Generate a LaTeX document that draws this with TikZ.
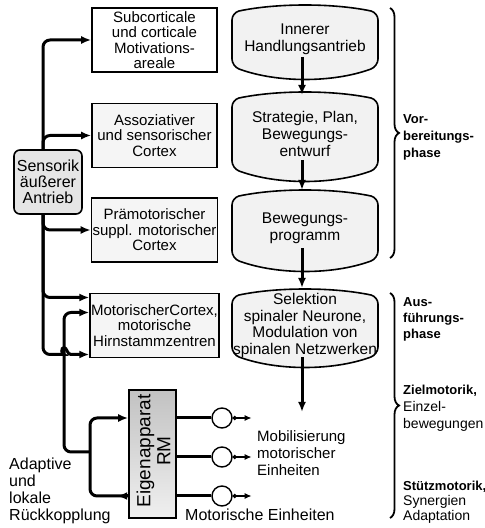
\documentclass[tikz,border=0pt]{standalone}
\usepackage{fontspec}
\setmainfont{Liberation Sans}
\usetikzlibrary{positioning,arrows.meta,calc,backgrounds,decorations.pathreplacing}

% barrel outline round a phase node: #1 node, #2 half height
\newcommand{\barrel}[2]{%
  \draw[outline]
    ($(#1.center)+(-73,-#2+7)$) -- ($(#1.center)+(-73,#2-7)$)
    .. controls +(0,4) and +(-4,-1) .. ($(#1.center)+(-66,#2+2)$)
    .. controls +(38,8) and +(-38,8) .. ($(#1.center)+(66,#2+2)$)
    .. controls +(4,-1) and +(0,4) .. ($(#1.center)+(73,#2-7)$)
    -- ($(#1.center)+(73,-#2+7)$)
    .. controls +(0,-4) and +(4,1.5) .. ($(#1.center)+(66,-#2-3)$)
    .. controls +(-38,-14) and +(38,-14) .. ($(#1.center)+(-66,-#2-3)$)
    .. controls +(-4,1.5) and +(0,-4) .. ($(#1.center)+(-73,-#2+7)$)
    -- cycle;}

\begin{document}
\begin{tikzpicture}[
    x=1pt, y=1pt,
    area/.style={
        rectangle,
        draw=black,
        line width=1.6pt,
        fill=white,
        minimum width=125pt,
        minimum height=64pt,
        inner sep=1pt,
        align=center,
        font=\fontsize{15}{15.5}\selectfont
    },
    phase/.style={
        inner sep=0pt,
        align=center,
        font=\fontsize{15.5}{16.8}\selectfont
    },
    outline/.style={draw=black, line width=1.6pt, line join=round, fill=black!5},
    sense/.style={
        rectangle,
        draw=black,
        line width=1.6pt,
        fill=black!10,
        rounded corners=6pt,
        minimum width=68pt,
        minimum height=64pt,
        inner sep=1pt,
        align=center,
        font=\fontsize{16}{16}\selectfont
    },
    rmbox/.style={rectangle, draw=black, line width=1.6pt, top color=black!24, bottom color=black!6,
        minimum width=47pt, minimum height=128pt},
    unit/.style={circle, draw=black, line width=1.4pt, fill=white, minimum size=20pt, inner sep=0pt},
    conn/.style={line width=3pt, rounded corners=7pt, -{Latex[length=10pt,width=8pt]}},
    wire/.style={line width=3pt},
    emit/.style={line width=1.6pt, {Circle[open,length=4pt,width=4pt]}-{Latex[length=7pt,width=6pt]}},
    stage/.style={decorate, decoration={brace, amplitude=9pt}, line width=1.8pt},
    note/.style={anchor=north west, inner sep=0pt, align=left, font=\fontsize{14}{17}\selectfont}
]
    \useasboundingbox (0,0) rectangle (485,528);

    % Areas
    \node[area] (sub) at (154.5,488) {Subcorticale\\und corticale\\Motivations-\\areale};
    \node[area, fill=black!4] (asso) at (154.5,392.5) {Assoziativer\\und sensorischer\\Cortex};
    \node[area, fill=black!4] (praemo) at (154.5,298) {Prämotorischer\\suppl. motorischer\\Cortex};
    \node[area, fill=black!4] (motcx) at (154.5,202.5) {MotorischerCortex,\\motorische\\Hirnstammzentren};
    \node[sense] (sens) at (48,346) {Sensorik\\äußerer\\Antrieb};

    % Phases
    \node[phase] (s1) at (305,488.5) {Innerer\\Handlungsantrieb};
    \node[phase] (s2) at (305,394) {Strategie, Plan,\\Bewegungs-\\entwurf};
    \node[phase] (s3) at (305,300) {Bewegungs-\\programm};
    \node[phase] (s4) at (305,202.5) {Selektion\\spinaler Neurone,\\Modulation von\\spinalen Netzwerken};
    \begin{scope}[on background layer]
        \barrel{s1}{26.5}
        \barrel{s2}{34}
        \barrel{s3}{30}
        \barrel{s4}{28.5}
    \end{scope}

    % Spinal level
    \node[rmbox] (rm) at (152.5,74) {};
    \node[rotate=90, align=center, font=\fontsize{19}{20}\selectfont] (rmtext) at ([xshift=1pt,yshift=3pt]rm.center) {Eigenapparat\\RM};
    \node[unit] (m1) at (222,110) {};
    \node[unit] (m2) at (222,71) {};
    \node[unit] (m3) at (222,32) {};
    \node[note, font=\fontsize{15}{17}\selectfont] (mob) at (257,98) {Mobilisierung\\motorischer\\Einheiten};
    \node[anchor=base west, inner sep=0pt, font=\fontsize{16}{17}\selectfont] (units) at (185,8) {Motorische Einheiten};
    \node[note, font=\fontsize{16}{17}\selectfont] (fbtext) at (9,70.7) {Adaptive\\und\\lokale\\Rückkopplung};

    % Sensory inputs
    \draw[conn] ([xshift=-5pt]sens.north) |- (sub);
    \draw[conn] ([xshift=-5pt]sens.north) |- (asso);
    \draw[conn] ([xshift=-5pt]sens.south) |- (praemo);
    \draw[conn] ([xshift=-5pt]sens.south) |- ([yshift=28pt]motcx.west);
    \coordinate (fb) at (64,76);
    \coordinate (loop) at (90,76);
    \coordinate (hop) at ([yshift=-29pt]motcx.west -| fb);
    \draw[conn] ([xshift=-5pt]sens.south) |- ([xshift=-7pt]hop) [sharp corners]
        .. controls +(4,0) and +(-3,0) .. ([yshift=7pt]hop)
        .. controls +(3,0) and +(-4,0) .. ([xshift=7pt]hop)
        -- ([yshift=-29pt]motcx.west);

    % Phase sequence
    \draw[conn] ([xshift=-3pt,yshift=-17.5pt]s1.center) -- ([xshift=-3pt,yshift=39pt]s2.center);
    \draw[conn] ([xshift=-3pt,yshift=-26pt]s2.center) -- ([xshift=-3pt,yshift=38pt]s3.center);
    \draw[conn] ([xshift=-3pt,yshift=-20pt]s3.center) -- ([xshift=-3pt,yshift=37.5pt]s4.center);
    \draw[conn, shorten >=18pt] ([xshift=-3pt,yshift=-31.5pt]s4.center) -- ([xshift=-3pt]s4.center |- mob.north);

    % Feedback loops
    \draw[conn] ([yshift=-42pt]rm.west) -| (loop) |- ([yshift=36pt]rm.west);
    \draw[-{Latex[length=10pt,width=8pt]}, line width=3pt] ([yshift=-42pt]rm.west) -- ++(-11pt,0);
    \draw[conn] (loop) -- (fb) |- ([yshift=13pt]motcx.west);

    % Motor units
    \foreach \m in {m1,m2,m3}{
        \draw[wire] (rm.east |- \m) -- (\m);
        \draw[emit] (\m.east) -- ++(19pt,0);
    }

    % Phases of movement
    \draw[stage] (390,520) -- (390,270);
    \draw[stage] (390,235) -- (390,10);
    \node[note, font=\fontsize{13}{17}\selectfont\bfseries] (prep) at (403,413.3) {Vor-\\bereitungs-\\phase};
    \node[note, font=\fontsize{13}{16}\selectfont\bfseries] (exec) at (403,230.3) {Aus-\\führungs-\\phase};
    \node[note] (aim) at (403,143.5) {{\fontsize{13}{17}\selectfont\bfseries Zielmotorik,}\\Einzel-\\bewegungen};
    \node[note, font=\fontsize{14}{15}\selectfont] (hold) at (403,47.5) {{\fontsize{13}{15}\selectfont\bfseries Stützmotorik,}\\Synergien\\Adaptation};
\end{tikzpicture}
\end{document}
